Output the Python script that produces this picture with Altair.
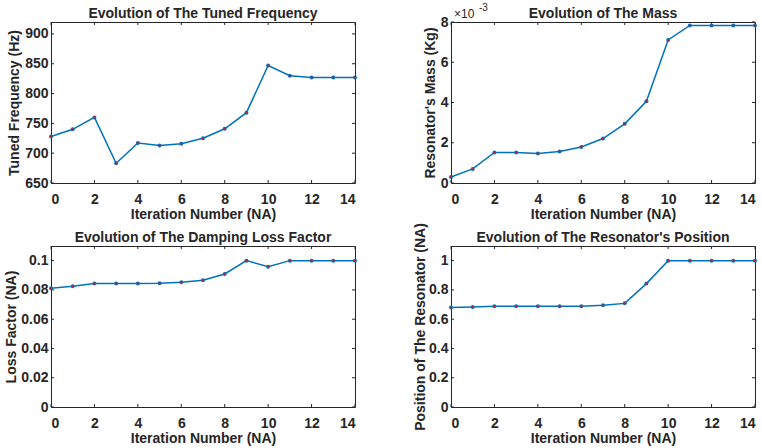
import altair as alt
import pandas as pd

# ---------------- data ----------------
iterations = [0, 1, 2, 3, 4, 5, 6, 7, 8, 9, 10, 11, 12, 13, 14]
tuned_frequency = [728, 740, 760, 683, 717, 713, 716, 725, 741, 768, 847, 830, 827, 827, 827]
mass_e3 = [0.30, 0.70, 1.52, 1.52, 1.47, 1.57, 1.79, 2.21, 2.94, 4.06, 7.11, 7.83, 7.83, 7.83, 7.83]
loss_factor = [0.0811, 0.0825, 0.0843, 0.0843, 0.0843, 0.0845, 0.0852, 0.0866, 0.0909, 0.1,
               0.0959, 0.1, 0.1, 0.1, 0.1]
position = [0.679, 0.683, 0.688, 0.688, 0.688, 0.688, 0.688, 0.695, 0.708, 0.843, 1.0, 1.0, 1.0, 1.0, 1.0]

x_ticks = [0, 2, 4, 6, 8, 10, 12, 14]
freq_ticks = [650, 700, 750, 800, 850, 900]
mass_ticks = [0, 2, 4, 6, 8]
loss_ticks = [0, 0.02, 0.04, 0.06, 0.08, 0.1]
pos_ticks = [0, 0.2, 0.4, 0.6, 0.8, 1.0]

titles = ["Evolution of The Tuned Frequency", "Evolution of The Mass",
          "Evolution of The Damping Loss Factor", "Evolution of The Resonator's Position"]
y_titles = ["Tuned Frequency (Hz)", "Resonator's Mass (Kg)", "Loss Factor (NA)",
            "Position of The Resonator (NA)"]
x_title = "Iteration Number (NA)"

# ---------------- style ----------------
W, H = 304, 161
FONT = "Liberation Sans"
TXT = "#262626"
BLUE = "#0072BD"
RED = "#C8202A"
TL = 3  # inner tick length

one = pd.DataFrame({"a": [0]})


def panel(values, ticks, domain, title, ytitle, ytitle_x, fmt, extra=None):
    df = pd.DataFrame({"it": iterations, "v": values})
    xs = alt.X("it:Q",
               scale=alt.Scale(domain=[0, 14], nice=False, zero=False),
               axis=alt.Axis(values=x_ticks, title=x_title,
                             titleY=35, titleBaseline="alphabetic",
                             labelPadding=9, format="d"))
    ys = alt.Y("v:Q",
               scale=alt.Scale(domain=domain, nice=False, zero=False),
               axis=alt.Axis(values=ticks, format=fmt, title=ytitle,
                             titleX=ytitle_x, titleBaseline="alphabetic",
                             labelPadding=3))
    line = alt.Chart(df).mark_line(color=BLUE, strokeWidth=1.5).encode(x=xs, y=ys)
    outer = alt.Chart(df).mark_circle(color=BLUE, size=16, opacity=1).encode(x=xs, y=ys)
    inner = alt.Chart(df).mark_circle(color=RED, size=5, opacity=1).encode(x=xs, y=ys)

    xt = pd.DataFrame({"it": x_ticks})
    yt = pd.DataFrame({"v": ticks})
    tb = alt.Chart(xt).mark_rule(color=TXT, strokeWidth=1).encode(
        x=xs, y=alt.value(H), y2=alt.value(H - TL))
    tt = alt.Chart(xt).mark_rule(color=TXT, strokeWidth=1).encode(
        x=xs, y=alt.value(0), y2=alt.value(TL))
    tl = alt.Chart(yt).mark_rule(color=TXT, strokeWidth=1).encode(
        y=ys, x=alt.value(0), x2=alt.value(TL))
    tr = alt.Chart(yt).mark_rule(color=TXT, strokeWidth=1).encode(
        y=ys, x=alt.value(W), x2=alt.value(W - TL))

    ttl = alt.Chart(one).mark_text(text=title, align="center", baseline="alphabetic",
                                   fontSize=14, fontWeight="bold", font=FONT,
                                   color=TXT).encode(x=alt.value(W / 2), y=alt.value(-4))

    layers = [tb, tt, tl, tr, line, outer, inner, ttl]
    if extra is not None:
        layers += extra
    return alt.layer(*layers).properties(width=W, height=H)


exp_main = alt.Chart(one).mark_text(text="\u00d710", align="left", baseline="alphabetic",
                                    fontSize=12, font=FONT, color=TXT).encode(
    x=alt.value(3), y=alt.value(-4))
exp_sup = alt.Chart(one).mark_text(text="-3", align="left", baseline="alphabetic",
                                   fontSize=10, font=FONT, color=TXT).encode(
    x=alt.value(28), y=alt.value(-11))

p1 = panel(tuned_frequency, freq_ticks, [650, 920], titles[0], y_titles[0], -33, "d")
p2 = panel(mass_e3, mass_ticks, [0, 8], titles[1], y_titles[1], -17, "d",
           extra=[exp_main, exp_sup])
p3 = panel(loss_factor, loss_ticks, [0, 0.11], titles[2], y_titles[2], -36, "~g")
p4 = panel(position, pos_ticks, [0, 1.1], titles[3], y_titles[3], -27, "~g")

chart = alt.concat(
    p1, p2, p3, p4, columns=2, spacing={"row": 63, "column": 96}, bounds="flush"
).configure_view(
    stroke=TXT, strokeWidth=1
).configure_axis(
    domain=False, ticks=False, tickSize=0, grid=False,
    labelFont=FONT, labelFontSize=14, labelFontWeight="bold", labelColor=TXT,
    titleFont=FONT, titleFontSize=14, titleFontWeight="bold", titleColor=TXT,
).properties(
    background="white",
    padding={"left": 3, "top": 2, "right": 0, "bottom": 0},
)

chart.save("out.html", embed_options={"renderer": "svg", "actions": False})
